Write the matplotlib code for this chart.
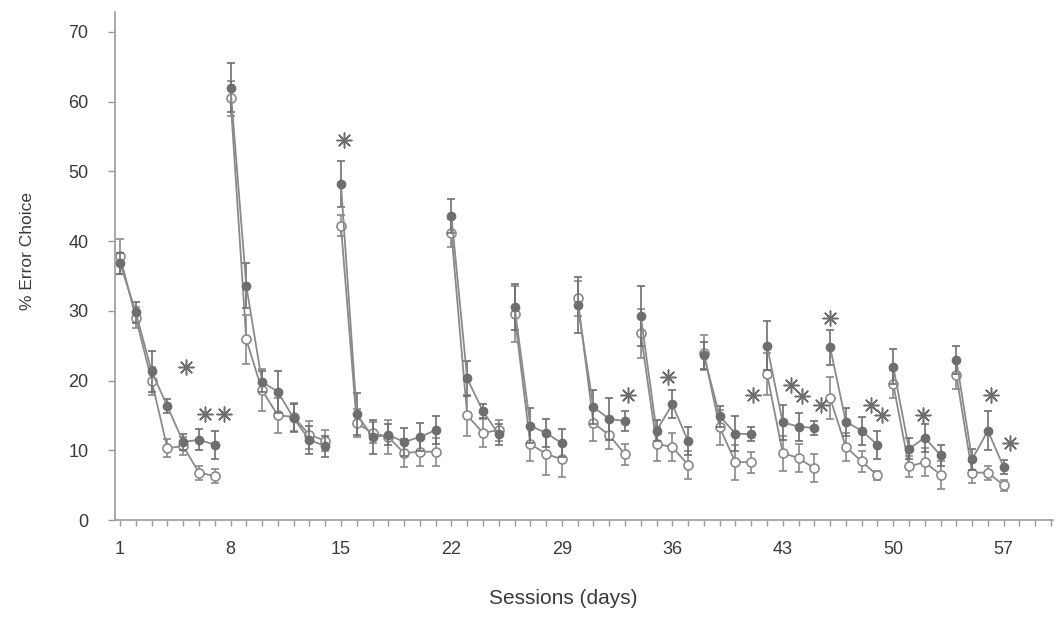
import numpy as np
import matplotlib
matplotlib.use("Agg")
import matplotlib.pyplot as plt

# Sessions grouped into training blocks (lines break between blocks)
blocks = [
    [1, 2, 3, 4, 5, 6, 7],
    [8, 9, 10, 11, 12, 13, 14],
    [15, 16, 17, 18, 19, 20, 21],
    [22, 23, 24, 25],
    [26, 27, 28, 29],
    [30, 31, 32, 33],
    [34, 35, 36, 37],
    [38, 39, 40, 41],
    [42, 43, 44, 45],
    [46, 47, 48, 49],
    [50, 51, 52, 53],
    [54, 55, 56, 57],
]

# % error choice, filled-circle group
filled_mean = [
    [36.8, 29.8, 21.3, 16.3, 11.2, 11.5, 10.8],
    [62.0, 33.6, 19.8, 18.4, 14.6, 11.5, 10.6],
    [48.2, 15.2, 11.9, 12.2, 11.2, 11.9, 12.9],
    [43.6, 20.3, 15.6, 12.3],
    [30.6, 13.5, 12.5, 11.0],
    [30.8, 16.2, 14.5, 14.2],
    [29.3, 12.8, 16.6, 11.3],
    [23.6, 14.9, 12.4, 12.3],
    [25.0, 14.0, 13.4, 13.2],
    [24.8, 14.1, 12.8, 10.8],
    [22.0, 10.2, 11.8, 9.3],
    [23.0, 8.7, 12.8, 7.6],
]
filled_sem = [
    [1.5, 1.5, 3.0, 1.0, 1.2, 1.5, 2.0],
    [3.5, 3.2, 1.5, 3.0, 2.0, 2.0, 1.5],
    [3.3, 3.0, 2.5, 1.5, 2.0, 2.0, 2.0],
    [2.5, 2.5, 1.0, 1.5],
    [3.3, 2.5, 2.0, 2.0],
    [4.0, 2.5, 3.0, 1.5],
    [4.3, 1.5, 2.0, 2.0],
    [2.0, 1.5, 2.5, 1.0],
    [3.5, 2.5, 2.0, 1.0],
    [2.5, 2.0, 2.0, 2.0],
    [2.5, 1.5, 2.0, 1.5],
    [2.0, 1.5, 2.8, 1.0],
]

# % error choice, open-circle group
open_mean = [
    [37.8, 29.0, 20.0, 10.3, 10.6, 6.8, 6.3],
    [60.5, 25.9, 18.6, 15.0, 14.8, 12.2, 11.4],
    [42.2, 13.9, 12.5, 11.9, 9.6, 9.8, 9.8],
    [41.2, 15.0, 12.5, 12.9],
    [29.5, 10.9, 9.5, 8.7],
    [31.8, 13.9, 12.2, 9.4],
    [26.8, 10.9, 10.5, 7.9],
    [24.0, 13.3, 8.3, 8.3],
    [21.0, 9.6, 8.9, 7.4],
    [17.5, 10.5, 8.4, 6.4],
    [19.5, 7.7, 8.3, 6.5],
    [20.8, 6.8, 6.8, 5.0],
]
open_sem = [
    [2.5, 1.5, 2.0, 1.3, 1.3, 1.0, 1.0],
    [2.5, 3.5, 3.0, 2.5, 2.0, 2.0, 1.5],
    [1.5, 2.0, 1.5, 2.5, 2.0, 2.0, 2.0],
    [2.0, 3.0, 2.0, 1.5],
    [4.0, 2.5, 3.0, 2.5],
    [2.5, 2.5, 2.0, 1.5],
    [3.5, 2.5, 2.0, 2.0],
    [2.5, 2.5, 2.5, 1.5],
    [3.0, 2.5, 2.0, 2.0],
    [3.0, 2.0, 1.5, 0.6],
    [2.0, 1.5, 2.0, 2.0],
    [2.0, 1.5, 1.0, 0.8],
]

# significance asterisks (session position, height)
star_x = [5.2, 6.4, 7.6, 15.2, 33.2, 35.7, 41.1, 43.5, 44.2, 45.4, 46.0, 48.6, 49.3, 51.9, 56.2, 57.4]
star_y = [22.0, 15.2, 15.2, 54.5, 18.0, 20.5, 18.0, 19.4, 17.8, 16.5, 29.0, 16.5, 15.0, 15.0, 18.0, 11.0]

xticks = [1, 8, 15, 22, 29, 36, 43, 50, 57]

line_col = "#8a8a8a"
dark = "#6e6e6e"
axis_col = "#9a9a9a"
text_col = "#3a3a3a"

plt.rcParams["font.family"] = ["Liberation Sans", "DejaVu Sans"]

fig = plt.figure(figsize=(10.57, 6.26), dpi=100)
ax = fig.add_axes([0.1088, 0.1693, 0.887, 0.812])

for xs, fm, fs, om, osd in zip(blocks, filled_mean, filled_sem, open_mean, open_sem):
    ax.errorbar(xs, om, yerr=osd, color=line_col, ecolor=line_col, elinewidth=1.2,
                capsize=3, capthick=1.2, lw=1.3, marker="o", ms=6.5,
                mfc="white", mec=line_col, mew=1.2, zorder=2)
    ax.errorbar(xs, fm, yerr=fs, color=line_col, ecolor=dark, elinewidth=1.2,
                capsize=3, capthick=1.2, lw=1.3, marker="o", ms=6,
                mfc=dark, mec=dark, zorder=3)

# asterisks drawn as star markers
ax.scatter(star_x, star_y, marker=(8, 2, 0), s=115, linewidths=1.1,
           color=dark, zorder=4)

ax.set_xlim(0.68, 60.1)
ax.set_ylim(0, 72.9)
ax.set_yticks(range(0, 80, 10))
ax.set_xticks(xticks)
ax.set_xticks(range(1, 61), minor=True)
ax.tick_params(axis="y", direction="out", length=5, width=1, color=axis_col,
               labelsize=13, labelcolor=text_col, pad=14)
ax.tick_params(axis="x", which="both", direction="out", length=4, width=1,
               color=axis_col, labelsize=13, labelcolor=text_col, pad=11)
for lab in ax.get_xticklabels():
    lab.set_family(["Liberation Sans Narrow", "Liberation Sans"])

for side in ["top", "right"]:
    ax.spines[side].set_visible(False)
for side in ["left", "bottom"]:
    ax.spines[side].set_color(axis_col)
    ax.spines[side].set_linewidth(1.2)

ax.set_ylabel("% Error Choice", fontsize=12.5, color=text_col)
ax.yaxis.set_label_coords(-0.085, 0.53)
ax.set_xlabel("Sessions (days)", fontsize=15, color=text_col,
              family=["Liberation Sans Narrow", "Liberation Sans"])
ax.xaxis.set_label_coords(0.478, -0.135)

fig.savefig("out.png", dpi=100)
